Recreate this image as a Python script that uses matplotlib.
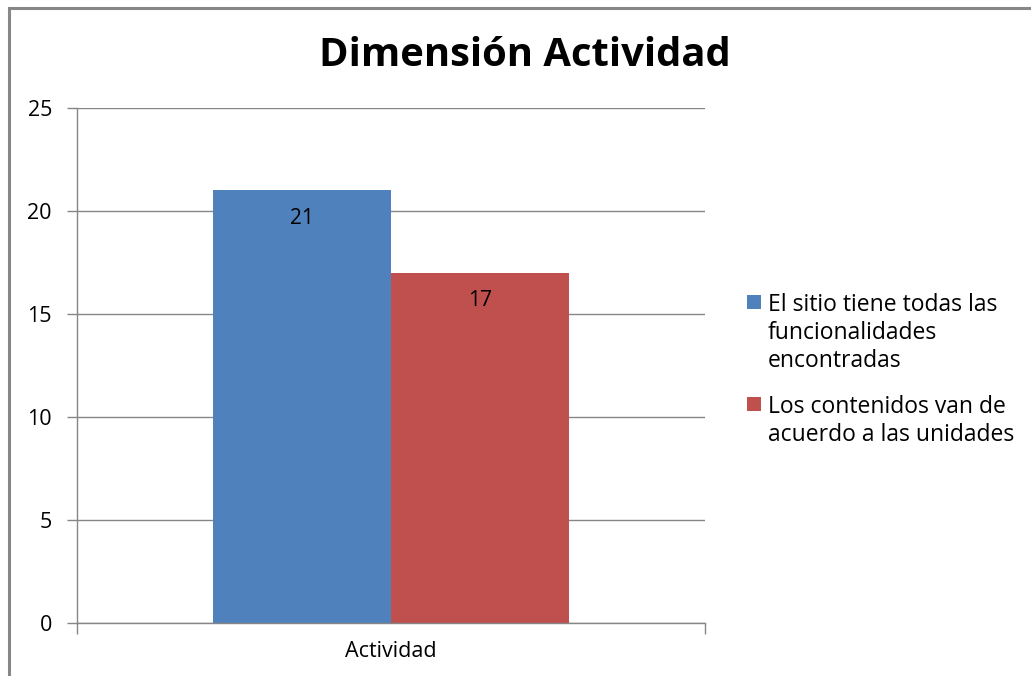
import matplotlib
matplotlib.use("Agg")
import matplotlib.pyplot as plt
from matplotlib.patches import Rectangle

categories = ["Actividad"]
series_names = ["El sitio tiene todas las\nfuncionalidades\nencontradas",
                "Los contenidos van de\nacuerdo a las unidades"]
series_values = [[21], [17]]
colors = ["#4F81BD", "#C0504D"]
yticks = [0, 5, 10, 15, 20, 25]
title = "Dimensión Actividad"

plt.rcParams['font.family'] = ['Open Sans', 'DejaVu Sans']

W, H = 1031, 676
fig = plt.figure(figsize=(W / 100, H / 100), dpi=100)
# outer chart frame
fig.patches.append(Rectangle((9 / W, -0.1), 1.2, 1 - 8 / H + 0.1, transform=fig.transFigure,
                             fill=False, edgecolor="#878787", linewidth=2.2))

ax = fig.add_axes([77 / W, 1 - 623 / H, 628 / W, 515 / H])
w = 0.2834
for i, (name, vals) in enumerate(zip(series_names, series_values)):
    xs = [k - w + i * w for k in range(len(categories))]
    bars = ax.bar(xs, vals, width=w, align="edge", color=colors[i], label=name, zorder=2)
    for b, v in zip(bars, vals):
        ax.annotate(str(v), (b.get_x() + b.get_width() / 2, v), xytext=(0, -28),
                    textcoords="offset pixels",
                    ha="center", va="center", fontsize=15, color="black", zorder=3)

ax.set_xlim(-0.5, len(categories) - 0.5)
ax.set_ylim(0, 25)
ax.set_yticks(yticks)
ax.set_yticklabels([str(t) for t in yticks], fontsize=15.5)
ax.yaxis.grid(True, color="#868686", linewidth=1)
ax.set_axisbelow(True)
ax.set_xticks([-0.5, 0.5])
ax.set_xticklabels([])
ax.set_xticks([0], minor=True)
ax.set_xticklabels(categories, minor=True, fontsize=15.5)
ax.tick_params(axis="x", which="minor", length=0, pad=13)
ax.tick_params(axis="x", which="major", length=8, color="#868686", width=1)
ax.tick_params(axis="y", length=7, color="#868686", width=1, pad=11)
for s in ["top", "right"]:
    ax.spines[s].set_visible(False)
for s in ["left", "bottom"]:
    ax.spines[s].set_color("#868686")
    ax.spines[s].set_linewidth(1)

fig.text(525 / W, 1 - 55 / H, title, ha="center", va="center", fontsize=28.8, fontweight="bold")

# legend (square aligned with first line of each entry, as in the reference)
entry_tops = [302, 404]
line_gap = 28
for name, c, y0 in zip(series_names, colors, entry_tops):
    fig.patches.append(Rectangle((747 / W, 1 - (y0 + 7) / H), 14 / W, 14 / H,
                                 transform=fig.transFigure, facecolor=c, edgecolor="none"))
    for j, line in enumerate(name.split("\n")):
        fig.text(768 / W, 1 - (y0 + j * line_gap) / H, line, ha="left", va="center_baseline",
                 fontsize=16.5, color="black")

fig.savefig("out.png", dpi=100)
